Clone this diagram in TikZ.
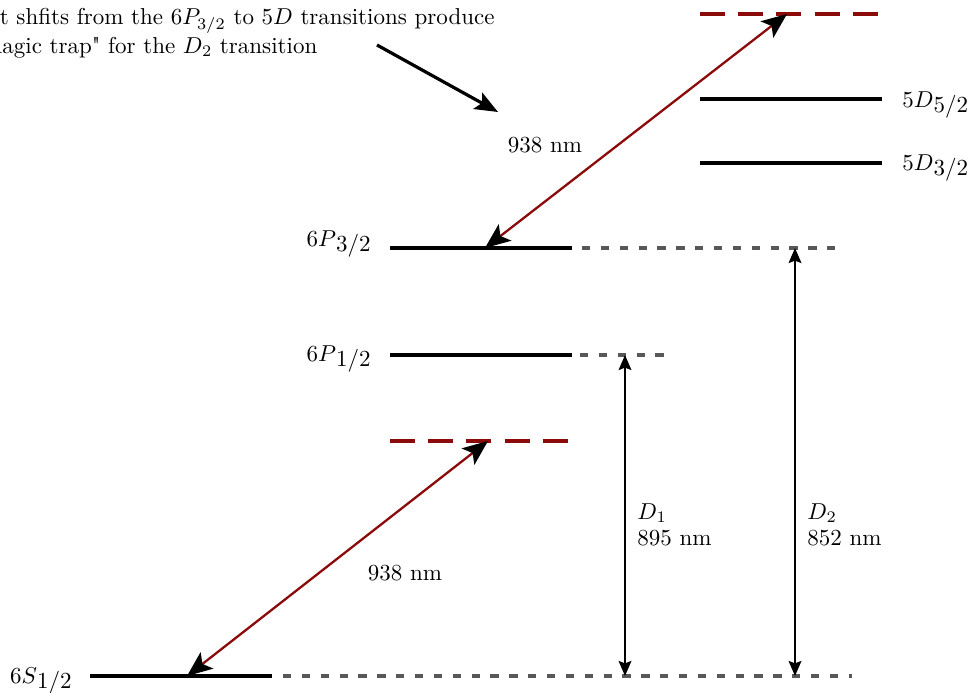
\documentclass[tikz,border=0pt]{standalone}
\usetikzlibrary{arrows.meta}
\definecolor{lvlred}{RGB}{139,10,10}
\definecolor{ghostgray}{RGB}{88,88,88}
\newcommand{\lowsub}[1]{\raisebox{-2.6pt}{$#1$}}
\begin{document}
\begin{tikzpicture}[x=0.4348pt,y=-0.4348pt,
  level/.style={line width=1.6pt, black},
  ghost/.style={line width=1.5pt, ghostgray, dash pattern=on 3.6pt off 4.6pt},
  virt/.style={line width=1.8pt, lvlred, dash pattern=on 10.9pt off 5.7pt},
  laser/.style={line width=1pt, lvlred,
    {Stealth[length=11pt,width=9pt,inset=2.5pt,color=black]}-{Stealth[length=11pt,width=9pt,inset=2.5pt,color=black]}},
  trans/.style={line width=1pt, black,
    {Stealth[length=6.5pt,width=5.5pt,inset=1pt]}-{Stealth[length=6.5pt,width=5.5pt,inset=1pt]}},
  pointer/.style={line width=1.4pt, black, -{Stealth[length=10pt,width=8pt,inset=2pt]}},
  lbl/.style={inner sep=0pt}]
\useasboundingbox (0,0) rectangle (970,693);

% note at top left (partly outside the picture)
\node[lbl, anchor=base west] (note1) at (-45,25) {Light shfits from the $6P_{3/2}$ to $5D$ transitions produce};
\node[lbl, anchor=base west] (note2) at (-45,53) {a \textquotedbl magic trap\textquotedbl{} for the $D_2$ transition};
\coordinate (pa) at (377,45);
\coordinate (pb) at (498,112);
\draw[pointer] (pa) -- (pb);

% levels
\coordinate (S0) at (90,676);   \coordinate (S1) at (272,676);
\coordinate (Sg0) at (283,676); \coordinate (Sg1) at (852,676);
\coordinate (Pa0) at (390,355); \coordinate (Pa1) at (572,355);
\coordinate (Pag0) at (580,355); \coordinate (Pag1) at (666,355);
\coordinate (Pb0) at (390,248); \coordinate (Pb1) at (572,248);
\coordinate (Pbg0) at (582,248); \coordinate (Pbg1) at (840,248);
\coordinate (V10) at (390,441); \coordinate (V11) at (572,441);
\coordinate (Da0) at (700,163); \coordinate (Da1) at (882,163);
\coordinate (Db0) at (700,99);  \coordinate (Db1) at (882,99);
\coordinate (V20) at (700,14);  \coordinate (V21) at (882,14);

\draw[level] (S0) -- (S1);
\draw[ghost] (Sg0) -- (Sg1);
\draw[level] (Pa0) -- (Pa1);
\draw[ghost] (Pag0) -- (Pag1);
\draw[level] (Pb0) -- (Pb1);
\draw[ghost] (Pbg0) -- (Pbg1);
\draw[virt] (V10) -- (V11);
\draw[level] (Da0) -- (Da1);
\draw[level] (Db0) -- (Db1);
\draw[virt] (V20) -- (V21);

% level labels
\node[lbl, anchor=base east] (lS) at (72,683) {$6S$\lowsub{1/2}};
\node[lbl, anchor=base east] (lPa) at (371,361) {$6P$\lowsub{1/2}};
\node[lbl, anchor=base east] (lPb) at (371,246) {$6P$\lowsub{3/2}};
\node[lbl, anchor=base west] (lDa) at (902,170) {$5D$\lowsub{3/2}};
\node[lbl, anchor=base west] (lDb) at (902,107) {$5D$\lowsub{5/2}};

% lasers 938 nm
\coordinate (L1a) at (187,676); \coordinate (L1b) at (488,441);
\coordinate (L2a) at (485,248); \coordinate (L2b) at (787,14);
\draw[laser] (L1a) -- (L1b);
\draw[laser] (L2a) -- (L2b);
\node[lbl] (w1) at (405,573) {938 nm};
\node[lbl] (w2) at (545,145) {938 nm};

% D lines
\coordinate (D1t) at (625,355); \coordinate (D1b) at (625,676);
\coordinate (D2t) at (795,248); \coordinate (D2b) at (795,676);
\draw[trans] (D1t) -- (D1b);
\draw[trans] (D2t) -- (D2b);
\node[lbl, anchor=base west] (d1n) at (637,519) {$D_1$};
\node[lbl, anchor=base west] (d1w) at (637,545) {895 nm};
\node[lbl, anchor=base west] (d2n) at (807,519) {$D_2$};
\node[lbl, anchor=base west] (d2w) at (807,545) {852 nm};
\end{tikzpicture}
\end{document}
